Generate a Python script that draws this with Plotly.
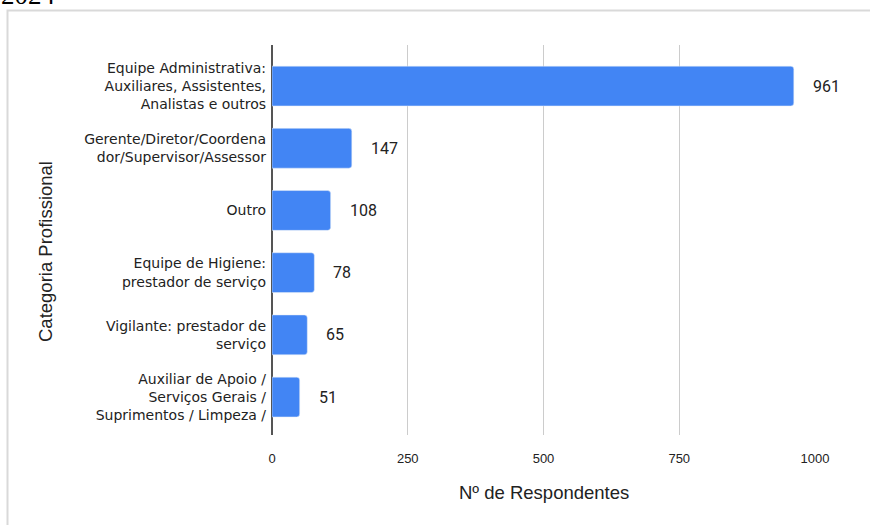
import plotly.graph_objects as go

categories = [
    "Equipe Administrativa:<br>Auxiliares, Assistentes,<br>Analistas e outros",
    "Gerente/Diretor/Coordena<br>dor/Supervisor/Assessor",
    "Outro",
    "Equipe de Higiene:<br>prestador de serviço",
    "Vigilante: prestador de<br>serviço",
    "Auxiliar de Apoio /<br>Serviços Gerais /<br>Suprimentos / Limpeza /",
]
values = [961, 147, 108, 78, 65, 51]
x_ticks = [0, 250, 500, 750, 1000]

W, H = 870, 525
ML, MR, MT, MB = 272, 55, 45, 90
PW = W - ML - MR
PH = H - MT - MB


def px_x(p):
    return (p - ML) / PW


def px_y(p):
    return (H - MB - p) / PH


fig = go.Figure()
fig.add_trace(go.Bar(
    x=values,
    y=categories,
    orientation="h",
    marker=dict(color="#4285F4", cornerradius=3),
    width=0.64,
    hoverinfo="skip",
))

for c, v in zip(categories, values):
    fig.add_annotation(
        x=v, y=c, xref="x", yref="y", text=str(v), showarrow=False,
        xanchor="left", xshift=17,
        font=dict(family="Roboto, Liberation Sans, sans-serif", size=16, color="#222222"),
    )

# axis titles
fig.add_annotation(
    x=0.5, y=px_y(493), xref="paper", yref="paper", text="Nº de Respondentes",
    showarrow=False, xanchor="center", yanchor="middle",
    font=dict(family="Liberation Sans, Arial, sans-serif", size=18.5, color="#222222"),
)
fig.add_annotation(
    x=px_x(45), y=px_y(252), xref="paper", yref="paper", text="Categoria Profissional",
    showarrow=False, xanchor="center", yanchor="middle", textangle=-90,
    font=dict(family="Liberation Sans, Arial, sans-serif", size=18.5, color="#222222"),
)
# partially visible heading text at top-left
fig.add_annotation(
    x=px_x(-1), y=px_y(12), xref="paper", yref="paper", text="2024",
    showarrow=False, xanchor="left", yanchor="bottom",
    font=dict(family="Liberation Serif, serif", size=27, color="#000000"),
)

# light frame around chart
fig.add_shape(
    type="rect", xref="paper", yref="paper",
    x0=px_x(7.5), x1=px_x(880), y0=px_y(540), y1=px_y(10.5),
    line=dict(color="#d9d9d9", width=2), fillcolor="rgba(0,0,0,0)", layer="below",
)

fig.update_layout(
    width=W, height=H,
    margin=dict(l=ML, r=MR, t=MT, b=MB),
    paper_bgcolor="white", plot_bgcolor="white",
    showlegend=False,
    bargap=0.36,
    font=dict(family="DejaVu Sans, sans-serif", size=12, color="#222222"),
)
fig.update_xaxes(
    range=[0, 1000], tickvals=x_ticks, ticktext=[str(t) for t in x_ticks],
    showgrid=True, gridcolor="#cccccc", gridwidth=1,
    zeroline=True, zerolinecolor="#555555", zerolinewidth=1.5,
    showline=False, ticks="", ticklabelstandoff=14,
    tickfont=dict(family="Liberation Sans, Arial, sans-serif", size=13, color="#222222"),
    fixedrange=True,
)
fig.update_yaxes(
    autorange=False, range=[5.61, -0.66], type="category",
    showgrid=False, showline=False, zeroline=False, ticks="",
    ticklabelstandoff=5,
    tickfont=dict(family="DejaVu Sans, sans-serif", size=14, color="#222222"),
    fixedrange=True,
)

fig.write_html(
    "out.html",
    config={"displayModeBar": False},
    post_script="document.body.style.margin='0';document.body.style.overflow='hidden';",
)
